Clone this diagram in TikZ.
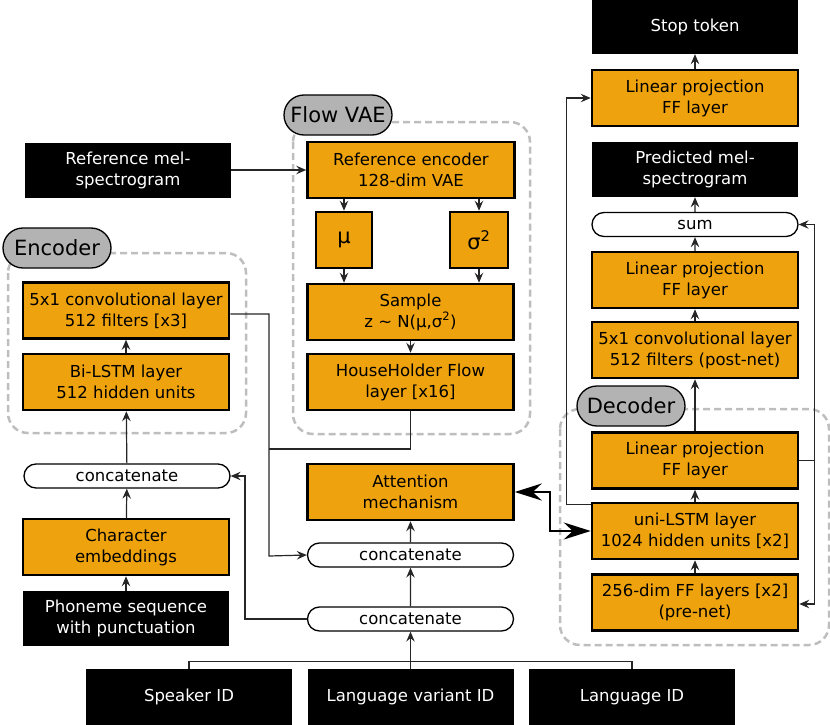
\documentclass[tikz,border=0pt]{standalone}
\usepackage{fontspec}
\setmainfont{DejaVu Sans}
\usetikzlibrary{arrows.meta, shapes.misc, positioning}
\definecolor{layerorange}{RGB}{238,162,13}
\definecolor{labelgray}{RGB}{179,179,179}
\definecolor{groupgray}{RGB}{190,190,190}
\newcommand\boxfont{\fontsize{16.5}{21}\selectfont}
\newcommand\tagfont{\fontsize{21}{25}\selectfont}

\begin{document}
\begin{tikzpicture}[x=1pt,y=-1pt,
  layer/.style={draw=black,line width=2.5pt,fill=layerorange,minimum width=206pt,minimum height=56pt,align=center,inner sep=0pt,font=\boxfont},
  io/.style={fill=black,text=white,minimum width=206pt,minimum height=55pt,align=center,inner sep=0pt,font=\boxfont},
  pill/.style={draw=black,line width=1.3pt,fill=white,rounded rectangle,minimum width=206pt,minimum height=24pt,inner sep=0pt,font=\boxfont},
  tag/.style={draw=black,line width=1.3pt,fill=labelgray,rounded rectangle,minimum width=108pt,minimum height=40pt,inner sep=0pt,font=\tagfont},
  group/.style={draw=groupgray,line width=2.5pt,dash pattern=on 7pt off 4pt,rounded corners=20pt},
  wire/.style={draw=black!85,line width=1.2pt},
  link/.style={wire,-{Stealth[length=10pt,width=8.5pt,inset=3.5pt]}},
  attn/.style={draw=black,line width=2.5pt,{Stealth[length=27pt,width=17pt,inset=9pt]}-{Stealth[length=27pt,width=17pt,inset=9pt]}}]
\useasboundingbox (0,0) rectangle (830,725);
% Dashed groups
\draw[group] (8,253) rectangle (246,433);
\draw[group] (293,122) rectangle (530,434);
\draw[group] (560,409) rectangle (829,645);
% Encoder column
\node[tag] (enclabel) at (57,248) {Encoder};
\node[layer] (conv) at (126,310.5) {5x1 convolutional layer\\512 filters [x3]};
\node[layer] (bilstm) at (126,382) {Bi-LSTM layer\\512 hidden units};
\node[pill] (concatL) at (127,476) {concatenate};
\node[layer] (charemb) at (126,547) {Character\\embeddings};
\node[io] (phoneme) at (126,618.5) {Phoneme sequence\\with punctuation};
% Flow VAE column
\node[io] (refmel) at (128,170) {Reference mel-\\spectrogram};
\node[tag] (flowlabel) at (338,115) {Flow VAE};
\node[layer,minimum width=207pt] (refenc) at (411,170) {Reference encoder\\128-dim VAE};
\node[layer,minimum width=56pt,font=\tagfont] (mu) at (344,240) {μ};
\node[layer,minimum width=58pt,font=\tagfont] (sigma) at (479,240) {σ\textsuperscript{2}};
\node[layer] (sample) at (410.5,312) {Sample\\z \textasciitilde{} N(μ,σ\textsuperscript{2})};
\node[layer] (hh) at (410.5,382) {HouseHolder Flow\\layer [x16]};
\node[layer] (attention) at (410.5,492) {Attention\\mechanism};
\node[pill] (concatM) at (410.5,555) {concatenate};
\node[pill] (concatB) at (410.5,619) {concatenate};
% Inputs at the bottom
\node[io,minimum height=56pt] (speaker) at (189,697) {Speaker ID};
\node[io,minimum height=56pt] (langvar) at (410.5,697) {Language variant ID};
\node[io,minimum height=56pt] (lang) at (632,697) {Language ID};
% Decoder column
\node[io,minimum height=54pt] (stop) at (695,27) {Stop token};
\node[layer] (lptop) at (695,98) {Linear projection\\FF layer};
\node[io] (pred) at (695,169.5) {Predicted mel-\\spectrogram};
\node[pill] (sum) at (695,224.5) {sum};
\node[layer] (lpmid) at (695,280) {Linear projection\\FF layer};
\node[layer] (postnet) at (695,350) {5x1 convolutional layer\\512 filters (post-net)};
\node[tag] (declabel) at (631,406) {Decoder};
\node[layer] (lpdec) at (695,460.5) {Linear projection\\FF layer};
\node[layer] (lstm) at (695,531) {uni-LSTM layer\\1024 hidden units [x2]};
\node[layer] (prenet) at (695,602.5) {256-dim FF layers [x2]\\(pre-net)};
% Encoder connectors
\draw[link] (phoneme) -- (charemb);
\draw[link] (charemb) -- (concatL);
\draw[link] (concatL) -- (bilstm);
\draw[link] (bilstm) -- (conv);
\draw[link] ([yshift=-3.5pt]conv.east) -| (269,556) coordinate (encbend) -- (concatM.west);
\draw[wire] (hh.south) |- (encbend |- 0,449);
\draw[link] (concatB.west) -| (245,476) -- (concatL.east);
% Flow VAE connectors
\draw[link] (refmel.east) -- (refenc.west |- refmel.east);
\draw[link] (mu.north |- refenc.south) -- (mu.north);
\draw[link] (sigma.north |- refenc.south) -- (sigma.north);
\draw[link] (mu.south) -- (mu.south |- sample.north);
\draw[link] (sigma.south) -- (sigma.south |- sample.north);
\draw[link] (sample) -- (hh);
\draw[link] (concatB) -- (concatM);
\draw[link] (concatM) -- (attention);
% Speaker and language inputs
\draw[wire] (speaker.north) -- ++(0,-7) -| (lang.north);
\draw[link] (langvar.north) -- (concatB.south);
% Attention to decoder
\draw[attn] (attention.east) -- (550,492) |- (lstm.west);
% Decoder connectors
\draw[link] (prenet) -- (lstm);
\draw[link] (lstm) -- (lpdec);
\draw[link] (lpdec) -- (postnet);
\draw[link] (postnet) -- (lpmid);
\draw[link] (lpmid) -- (sum);
\draw[link] (sum) -- (pred);
\draw[link] (lptop) -- (stop);
\draw[link] ([yshift=-3pt]lstm.north west) -- ++(-24,0) |- (lptop.west);
\draw[wire] (lpdec.east) -- ++(15,0) coordinate (fb);
\draw[link] (fb) |- (sum.east);
\draw[link] (fb) |- ([yshift=-1.5pt]prenet.east);
\end{tikzpicture}
\end{document}
